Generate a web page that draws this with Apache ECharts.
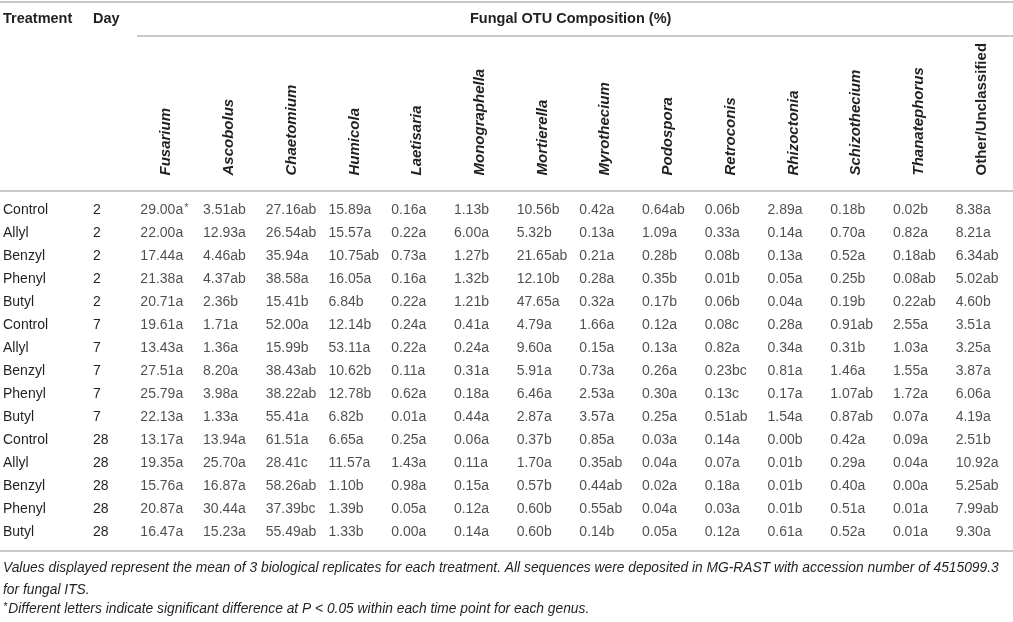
<!DOCTYPE html>
<html>
<head>
<meta charset="utf-8">
<script src="https://cdn.jsdelivr.net/npm/echarts@6/dist/echarts.min.js"></script>
<style>
html, body { margin: 0; padding: 0; background: #fff; }
#main { width: 1013px; height: 622px; }
</style>
</head>
<body>
<div id="main"></div>
<script>
// rows of the table
var treatments = ['Control', 'Allyl', 'Benzyl', 'Phenyl', 'Butyl',
	'Control', 'Allyl', 'Benzyl', 'Phenyl', 'Butyl',
	'Control', 'Allyl', 'Benzyl', 'Phenyl', 'Butyl'];
var days = [2, 2, 2, 2, 2, 7, 7, 7, 7, 7, 28, 28, 28, 28, 28];

// columns
var genera = ['Fusarium', 'Ascobolus', 'Chaetomium', 'Humicola', 'Laetisaria', 'Monographella',
	'Mortierella', 'Myrothecium', 'Podospora', 'Retroconis', 'Rhizoctonia', 'Schizothecium',
	'Thanatephorus', 'Other/Unclassified'];

// mean % with significance letters, one array per genus
var fusarium = ['29.00a*', '22.00a', '17.44a', '21.38a', '20.71a', '19.61a', '13.43a', '27.51a', '25.79a', '22.13a', '13.17a', '19.35a', '15.76a', '20.87a', '16.47a'];
var ascobolus = ['3.51ab', '12.93a', '4.46ab', '4.37ab', '2.36b', '1.71a', '1.36a', '8.20a', '3.98a', '1.33a', '13.94a', '25.70a', '16.87a', '30.44a', '15.23a'];
var chaetomium = ['27.16ab', '26.54ab', '35.94a', '38.58a', '15.41b', '52.00a', '15.99b', '38.43ab', '38.22ab', '55.41a', '61.51a', '28.41c', '58.26ab', '37.39bc', '55.49ab'];
var humicola = ['15.89a', '15.57a', '10.75ab', '16.05a', '6.84b', '12.14b', '53.11a', '10.62b', '12.78b', '6.82b', '6.65a', '11.57a', '1.10b', '1.39b', '1.33b'];
var laetisaria = ['0.16a', '0.22a', '0.73a', '0.16a', '0.22a', '0.24a', '0.22a', '0.11a', '0.62a', '0.01a', '0.25a', '1.43a', '0.98a', '0.05a', '0.00a'];
var monographella = ['1.13b', '6.00a', '1.27b', '1.32b', '1.21b', '0.41a', '0.24a', '0.31a', '0.18a', '0.44a', '0.06a', '0.11a', '0.15a', '0.12a', '0.14a'];
var mortierella = ['10.56b', '5.32b', '21.65ab', '12.10b', '47.65a', '4.79a', '9.60a', '5.91a', '6.46a', '2.87a', '0.37b', '1.70a', '0.57b', '0.60b', '0.60b'];
var myrothecium = ['0.42a', '0.13a', '0.21a', '0.28a', '0.32a', '1.66a', '0.15a', '0.73a', '2.53a', '3.57a', '0.85a', '0.35ab', '0.44ab', '0.55ab', '0.14b'];
var podospora = ['0.64ab', '1.09a', '0.28b', '0.35b', '0.17b', '0.12a', '0.13a', '0.26a', '0.30a', '0.25a', '0.03a', '0.04a', '0.02a', '0.04a', '0.05a'];
var retroconis = ['0.06b', '0.33a', '0.08b', '0.01b', '0.06b', '0.08c', '0.82a', '0.23bc', '0.13c', '0.51ab', '0.14a', '0.07a', '0.18a', '0.03a', '0.12a'];
var rhizoctonia = ['2.89a', '0.14a', '0.13a', '0.05a', '0.04a', '0.28a', '0.34a', '0.81a', '0.17a', '1.54a', '0.00b', '0.01b', '0.01b', '0.01b', '0.61a'];
var schizothecium = ['0.18b', '0.70a', '0.52a', '0.25b', '0.19b', '0.91ab', '0.31b', '1.46a', '1.07ab', '0.87ab', '0.42a', '0.29a', '0.40a', '0.51a', '0.52a'];
var thanatephorus = ['0.02b', '0.82a', '0.18ab', '0.08ab', '0.22ab', '2.55a', '1.03a', '1.55a', '1.72a', '0.07a', '0.09a', '0.04a', '0.00a', '0.01a', '0.01a'];
var other = ['8.38a', '8.21a', '6.34ab', '5.02ab', '4.60b', '3.51a', '3.25a', '3.87a', '6.06a', '4.19a', '2.51b', '10.92a', '5.25ab', '7.99ab', '9.30a'];

var columns = [fusarium, ascobolus, chaetomium, humicola, laetisaria, monographella, mortierella,
	myrothecium, podospora, retroconis, rhizoctonia, schizothecium, thanatephorus, other];

var FONT = '"Liberation Sans", Arial, Helvetica, sans-serif';
var INK = '#231f20';
var RULE = '#c8c8c8';

var cells = [];
for (var c = 0; c < columns.length; c++) {
	for (var r = 0; r < columns[c].length; r++) {
		cells.push([c, r, columns[c][r]]);
	}
}

var headStyle = { fontFamily: FONT, fontSize: 14.5, fontWeight: 'bold', color: INK };

var chart = echarts.init(document.getElementById('main'));
chart.setOption({
	animation: false,
	title: [
		{ text: 'Treatment', left: 3, top: 11, padding: 0, textStyle: headStyle },
		{ text: 'Day', left: 93, top: 11, padding: 0, textStyle: headStyle },
		{ text: 'Fungal OTU Composition (%)', left: 470, top: 11, padding: 0, textStyle: headStyle },
		{
			text: 'Values displayed represent the mean of 3 biological replicates for each treatment. All sequences were deposited in MG-RAST with accession number of 4515099.3\nfor fungal ITS.',
			left: 3, top: 557, padding: 0,
			textStyle: { fontFamily: FONT, fontSize: 13.8, fontStyle: 'italic', fontWeight: 'normal', color: INK, lineHeight: 22 }
		},
		{
			text: '{s|*}{t|Different letters indicate significant difference at P < 0.05 within each time point for each genus.}',
			left: 3, top: 601, padding: 0,
			textStyle: {
				fontWeight: 'normal',
				rich: {
					s: { fontFamily: FONT, fontSize: 11, fontStyle: 'italic', fontWeight: 'normal', color: INK, verticalAlign: 'top', padding: [0, 1, 5, 0] },
					t: { fontFamily: FONT, fontSize: 13.8, fontStyle: 'italic', fontWeight: 'normal', color: INK }
				}
			}
		}
	],
	graphic: [
		{ type: 'line', shape: { x1: 0, y1: 2, x2: 1013, y2: 2 }, style: { stroke: RULE, lineWidth: 2 }, silent: true },
		{ type: 'line', shape: { x1: 137, y1: 36, x2: 1013, y2: 36 }, style: { stroke: RULE, lineWidth: 2 }, silent: true },
		{ type: 'line', shape: { x1: 0, y1: 191, x2: 1013, y2: 191 }, style: { stroke: RULE, lineWidth: 2 }, silent: true },
		{ type: 'line', shape: { x1: 0, y1: 551, x2: 1013, y2: 551 }, style: { stroke: RULE, lineWidth: 2 }, silent: true }
	],
	grid: { left: 135, top: 198.5, width: 889, height: 345, containLabel: false },
	xAxis: {
		type: 'category',
		position: 'top',
		data: genera,
		axisLine: { show: false },
		axisTick: { show: false },
		splitLine: { show: false },
		axisLabel: {
			interval: 0,
			rotate: -90,
			margin: 23,
			formatter: function (v) {
				return v === 'Other/Unclassified' ? '{n|' + v + '}' : '{i|' + v + '}';
			},
			rich: {
				i: { fontFamily: FONT, fontSize: 15, fontWeight: 'bold', fontStyle: 'italic', color: INK },
				n: { fontFamily: FONT, fontSize: 15, fontWeight: 'bold', color: INK }
			}
		}
	},
	yAxis: {
		type: 'category',
		inverse: true,
		data: treatments,
		axisLine: { show: false },
		axisTick: { show: false },
		splitLine: { show: false },
		axisLabel: {
			interval: 0,
			align: 'left',
			margin: 132,
			formatter: function (v, i) {
				return '{t|' + v + '}{d|' + days[i] + '}';
			},
			rich: {
				t: { fontFamily: FONT, fontSize: 14, color: INK, width: 90 },
				d: { fontFamily: FONT, fontSize: 14, color: INK }
			}
		}
	},
	series: [{
		type: 'scatter',
		data: cells,
		symbolSize: 1,
		itemStyle: { color: 'rgba(0,0,0,0)' },
		silent: true,
		label: {
			show: true,
			position: 'inside',
			align: 'left',
			offset: [-26, 0],
			formatter: function (p) {
				var s = p.value[2];
				if (s.charAt(s.length - 1) === '*') {
					return '{v|' + s.slice(0, -1) + '}{s|*}';
				}
				return '{v|' + s + '}';
			},
			rich: {
				v: { fontFamily: FONT, fontSize: 14, color: INK },
				s: { fontFamily: FONT, fontSize: 11, color: INK, verticalAlign: 'top', padding: [0, 0, 5, 1] }
			}
		}
	}]
});
</script>
</body>
</html>
